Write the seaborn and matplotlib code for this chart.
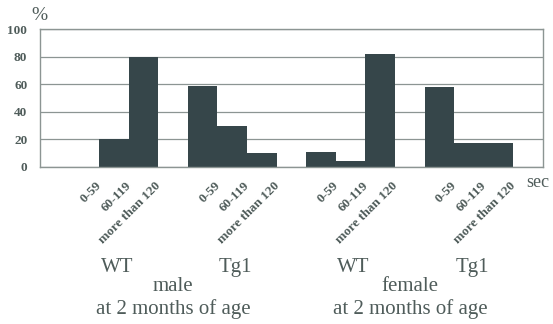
import numpy as np
import pandas as pd
import matplotlib.pyplot as plt
import seaborn as sns

# latency bins (sec) and the four groups
bins = ["0-59", "60-119", "more than 120"]
groups = ["WT", "Tg1", "WT", "Tg1"]
sexes = ["male", "female"]

male_wt = [0, 20, 80]
male_tg1 = [59, 30, 10]
female_wt = [11, 4, 82]
female_tg1 = [58, 17, 17]

yticks = [0, 20, 40, 60, 80, 100]

if __name__ == '__main__':
    values = [male_wt, male_tg1, female_wt, female_tg1]
    rows = []
    for g, vals in enumerate(values):
        for b, v in enumerate(vals):
            # each group takes 3 slots, one empty slot between groups
            rows.append({"pos": 1.5 + g * 4 + b, "pct": v, "bin": bins[b], "group": g})
    df = pd.DataFrame(rows)

    sns.set_theme(style="white")
    plt.rcParams['font.family'] = ['Liberation Serif', 'DejaVu Serif']

    text_col = "#4f5c5a"
    bar_col = "#36464a"

    fig = plt.figure(figsize=(5.53, 3.24), dpi=100)
    ax = fig.add_axes([0.072, 0.485, 0.910, 0.425])

    sns.barplot(data=df, x="pos", y="pct", native_scale=True, width=1.0,
                color=bar_col, saturation=1, linewidth=0, ax=ax)

    ax.set_xlim(0, 17)
    ax.set_ylim(0, 100)
    ax.set_yticks(yticks)
    ax.set_yticklabels([str(t) for t in yticks], fontsize=9.5, fontweight="bold", color=text_col)
    ax.yaxis.grid(True, color="#8c9593", linewidth=0.9)
    ax.set_axisbelow(True)
    for s in ax.spines.values():
        s.set_color("#8c9593")
        s.set_linewidth(1.0)
    ax.tick_params(axis="y", length=0, pad=9)
    ax.tick_params(axis="x", length=0, pad=9)
    ax.set_xlabel("")
    ax.set_ylabel("")

    ax.set_xticks(df["pos"] + 0.38)
    ax.set_xticklabels(df["bin"], rotation=45, ha="right", va="top",
                       rotation_mode="anchor", fontsize=9.5, fontweight="bold", color=text_col)

    ax.text(0.0, 1.10, "%", transform=ax.transAxes, fontsize=14, color=text_col,
            ha="center", va="center")
    ax.text(0.966, -0.116, "sec", transform=ax.transAxes, fontsize=13, color=text_col,
            ha="left", va="center")

    # group and sex labels under the axis
    trans = ax.get_xaxis_transform()
    for g, name in enumerate(groups):
        xc = 1 + g * 4 + 1.5
        ax.text(xc + 0.1, -0.73, name, transform=trans, fontsize=15, color=text_col,
                ha="center", va="center")
    for k, sex in enumerate(sexes):
        xc = 1 + k * 8 + 3.5
        ax.text(xc, -0.87, sex, transform=trans, fontsize=15, color=text_col,
                ha="center", va="center")
        ax.text(xc, -1.03, "at 2 months of age", transform=trans, fontsize=15,
                color=text_col, ha="center", va="center")

    fig.savefig("out.png", dpi=100)
